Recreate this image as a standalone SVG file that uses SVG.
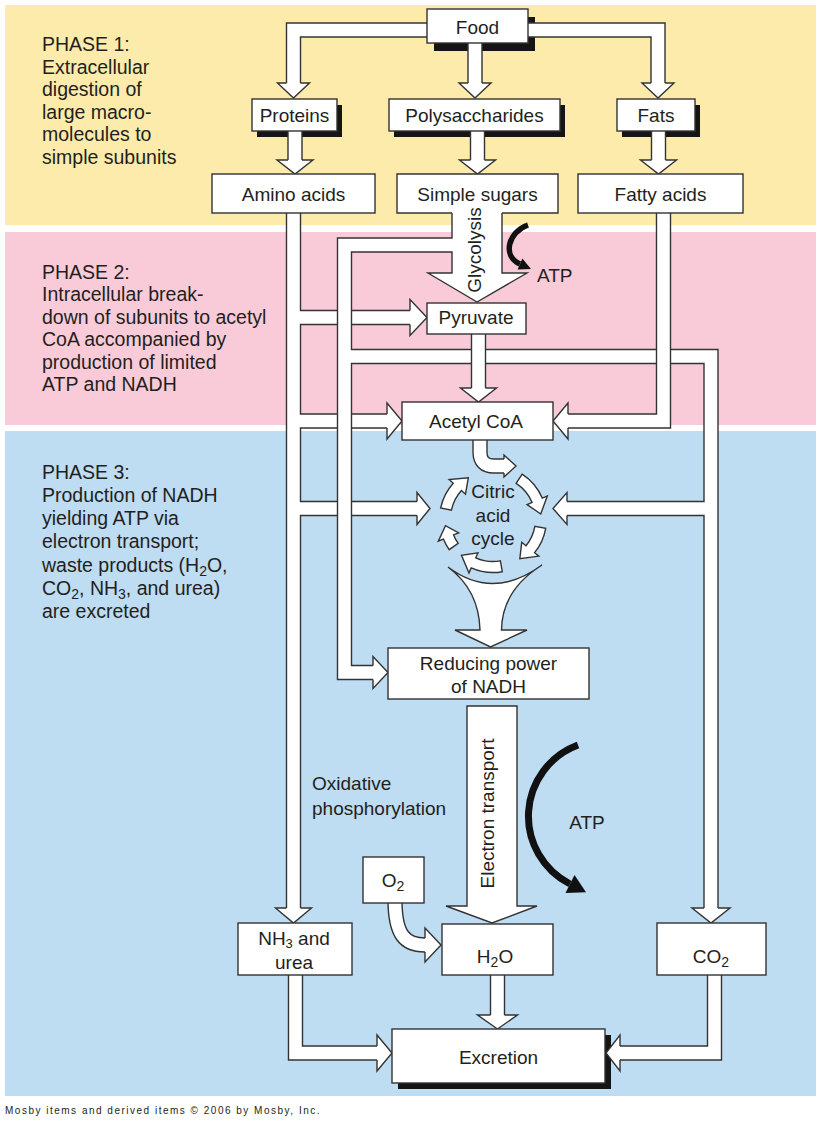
<svg xmlns="http://www.w3.org/2000/svg" width="821" height="1125" viewBox="0 0 821 1125">
<style>
.t{font-family:"Liberation Sans",Arial,sans-serif;fill:#231f20}
.ph{font-size:19.5px}
.lb{font-size:19px;text-anchor:middle}
.box{fill:#fff;stroke:#333;stroke-width:1.4}
.nb{fill:#fff;stroke:none}
.ln{fill:none;stroke:#333;stroke-width:1.4}
.sh{fill:#151515}
.po{fill:none;stroke:#333;stroke-width:15.4;stroke-linejoin:miter;stroke-linecap:butt}
.pi{fill:none;stroke:#fff;stroke-width:12.6;stroke-linejoin:miter;stroke-linecap:butt}
.ah{fill:#fff;stroke:#333;stroke-width:1.4;stroke-linejoin:miter}
.blk{fill:none;stroke:#111;stroke-linecap:butt}
.bh{fill:#111}
</style>

<g id="bands">
<rect x="5" y="5" width="811" height="220" fill="#fcebab"/>
<rect x="5" y="232" width="811" height="193" fill="#f9cbd9"/>
<rect x="5" y="431" width="811" height="665" fill="#bedcf2"/>
</g>

<g id="phase-text" class="t ph">
<text x="42" y="51">PHASE 1:</text>
<text x="42" y="73.5">Extracellular</text>
<text x="42" y="96">digestion of</text>
<text x="42" y="118.5">large macro-</text>
<text x="42" y="141">molecules to</text>
<text x="42" y="163.5">simple subunits</text>
<text x="42" y="278.5">PHASE 2:</text>
<text x="42" y="301">Intracellular break-</text>
<text x="42" y="323.5">down of subunits to acetyl</text>
<text x="42" y="346">CoA accompanied by</text>
<text x="42" y="368.5">production of limited</text>
<text x="42" y="391">ATP and NADH</text>
<text x="42" y="478.5">PHASE 3:</text>
<text x="42" y="501.5">Production of NADH</text>
<text x="42" y="525">yielding ATP via</text>
<text x="42" y="548">electron transport;</text>
<text x="42" y="571.5">waste products (H<tspan dy="4" font-size="14">2</tspan><tspan dy="-4">O,</tspan></text>
<text x="42" y="595">CO<tspan dy="4" font-size="14">2</tspan><tspan dy="-4">, NH</tspan><tspan dy="4" font-size="14">3</tspan><tspan dy="-4">, and urea)</tspan></text>
<text x="42" y="618">are excreted</text>
</g>

<g id="shadows">
<rect class="sh" x="434" y="17" width="101" height="34"/>
<rect class="sh" x="257" y="105" width="85" height="32"/>
<rect class="sh" x="394" y="105" width="171" height="32"/>
<rect class="sh" x="622" y="105" width="78" height="32"/>
<rect class="sh" x="398" y="1035" width="213" height="54"/>
</g>

<g id="connectors">
<path class="po" d="M293.5,83 V30 H658 V83 M475,40 V83"/>
<path class="pi" d="M293.5,83 V30 H658 V83 M475,40 V83"/>
<path class="ah" d="M286.5,83 L277.5,83 L293.5,98 L309.5,83 L300.5,83"/>
<path class="ah" d="M468,83 L459,83 L475,98 L491,83 L482,83"/>
<path class="ah" d="M651,83 L642,83 L658,98 L674,83 L665,83"/>
<path class="po" d="M295,128 V160 M477.5,128 V160 M658.5,128 V160"/>
<path class="pi" d="M295,128 V160 M477.5,128 V160 M658.5,128 V160"/>
<path class="ah" d="M288,160 L277,160 L295,174 L313,160 L302,160"/>
<path class="ah" d="M470.5,160 L459.5,160 L477.5,174 L495.5,160 L484.5,160"/>
<path class="ah" d="M651.5,160 L640.5,160 L658.5,174 L676.5,160 L665.5,160"/>
<path class="po" d="M293.5,211 V908 M293.5,317.5 H410 M293.5,421 H387 M293.5,508.5 H417"/>
<path class="pi" d="M293.5,211 V908 M293.5,317.5 H410 M293.5,421 H387 M293.5,508.5 H417"/>
<path class="ah" d="M410,310.5 L410,299.5 L427,317.5 L410,335.5 L410,324.5"/>
<path class="ah" d="M387,414 L387,403 L402,421 L387,439 L387,428"/>
<path class="ah" d="M417,501.5 L417,492.5 L430,508.5 L417,524.5 L417,515.5"/>
<path class="ah" d="M286.5,908 L275.5,908 L293.5,923 L311.5,908 L300.5,908"/>
<path class="po" d="M452,245 H344.5 V672.5 H373 M344.5,356.5 H711 V908 M711,508.5 H567"/>
<path class="ah" d="M452,211 V273 H428 L477,302 L527,273 H502 V211"/>
<path class="pi" d="M455,245 H344.5 V672.5 H373 M344.5,356.5 H711 V908 M711,508.5 H567"/>
<path class="ah" d="M373,665.5 L373,656.5 L388,672.5 L373,688.5 L373,679.5"/>
<path class="ah" d="M567,501.5 L567,492.5 L553,508.5 L567,524.5 L567,515.5"/>
<path class="ah" d="M704,908 L692,908 L711,923 L730,908 L718,908"/>
<path class="po" d="M663.5,211 V421 H568"/>
<path class="pi" d="M663.5,211 V421 H568"/>
<path class="ah" d="M568,414 L568,403 L553,421 L568,439 L568,428"/>
<path class="po" d="M478.5,331 V388"/>
<path class="pi" d="M478.5,331 V388"/>
<path class="ah" d="M471.5,388 L460.5,388 L478.5,402 L496.5,388 L485.5,388"/>
<path class="po" d="M480,437 V452 Q480,466 494,466 H504"/>
<path class="pi" d="M480,437 V452 Q480,466 494,466 H504"/>
<path class="ah" d="M504,459 L504,455 L516,466 L504,477 L504,473"/>
<path class="ah" d="M448,567 Q493,601 542,565 Q502,590 501.5,630 L527,630 L490.5,647 L455,630 L480,630 Q479,590 448,567 Z"/>
<path class="ah" d="M467,706 H517 V906 H537 L492,923 L446,906 H467 Z"/>
<path class="po" d="M395,900 C395,935 405,945 425,945"/>
<path class="pi" d="M395,900 C395,935 405,945 425,945"/>
<path class="ah" d="M425,938 L425,928 L441,945 L425,962 L425,952"/>
<path class="po" d="M295.5,972 V1053 H377 M497.5,972 V1015 M714.5,972 V1053 H620"/>
<path class="pi" d="M295.5,972 V1053 H377 M497.5,972 V1015 M714.5,972 V1053 H620"/>
<path class="ah" d="M377,1046 L377,1035 L392,1053 L377,1071 L377,1060"/>
<path class="ah" d="M490.5,1015 L477.5,1015 L497.5,1029 L517.5,1015 L504.5,1015"/>
<path class="ah" d="M620,1046 L620,1035 L606,1053 L620,1071 L620,1060"/>
<path class="blk" stroke-width="5.5" d="M528,225 C508,232 502,256 520,264"/>
<path class="bh" d="M517.6,269.5 L522.4,258.5 L531,268.9 Z"/>
<path class="blk" stroke-width="7" d="M578,745 A76,76 0 0 0 570,884"/>
<path class="bh" d="M565.5,892.9 L574.5,875.1 L586,892.2 Z"/>
</g>

<g id="food">
<rect class="box" x="427" y="9" width="101" height="34"/>
<text class="t lb" x="477.5" y="34">Food</text>
</g>
<g id="proteins">
<rect class="box" x="252" y="99" width="85" height="32"/>
<text class="t lb" x="294.5" y="122">Proteins</text>
</g>
<g id="polysaccharides">
<rect class="box" x="389" y="99" width="171" height="32"/>
<text class="t lb" x="474.5" y="122">Polysaccharides</text>
</g>
<g id="fats">
<rect class="box" x="617" y="99" width="78" height="32"/>
<text class="t lb" x="656" y="122">Fats</text>
</g>
<g id="amino-acids">
<rect class="box" x="212" y="174" width="163" height="39"/>
<text class="t lb" x="293.5" y="201">Amino acids</text>
</g>
<g id="simple-sugars">
<rect class="nb" x="397" y="174" width="161" height="39"/>
<path class="ln" d="M452,213 H397 V174 H558 V213 H502"/>
<text class="t lb" x="477.5" y="201">Simple sugars</text>
</g>
<g id="fatty-acids">
<rect class="box" x="578" y="174" width="165" height="39"/>
<text class="t lb" x="660.5" y="201">Fatty acids</text>
</g>
<g id="pyruvate">
<rect class="box" x="427" y="303" width="99" height="31"/>
<text class="t lb" x="476" y="324">Pyruvate</text>
</g>
<g id="acetyl-coa">
<rect class="box" x="402" y="402" width="151" height="38"/>
<text class="t lb" x="476" y="428">Acetyl CoA</text>
</g>
<g id="citric-acid-cycle">
<path class="ah" d="M440.67,507.88 A53.5,53.5 0 0 1 453.24,483.2 L449.16,479.52 L468.28,477.85 L465.51,494.24 L461.42,490.56 A42.5,42.5 0 0 0 451.43,510.16 Z"/>
<path class="ah" d="M522.14,474.13 A53.5,53.5 0 0 1 542.25,498.1 L547.31,495.95 L540.74,513.98 L527.06,504.54 L532.12,502.4 A42.5,42.5 0 0 0 516.15,483.36 Z"/>
<path class="ah" d="M545.69,528.29 A53.5,53.5 0 0 1 534.57,552.67 L538.85,556.13 L519.84,558.79 L521.75,542.28 L526.03,545.75 A42.5,42.5 0 0 0 534.85,526.38 Z"/>
<path class="ah" d="M502.29,571.69 A53.5,53.5 0 0 1 471.24,567.87 L469,572.9 L461.51,555.23 L477.95,552.8 L475.72,557.82 A42.5,42.5 0 0 0 500.38,560.85 Z"/>
<path class="ah" d="M449.17,549.69 A53.5,53.5 0 0 1 443.39,539.04 L438.3,541.1 L445.47,525.68 L458.69,532.86 L453.59,534.92 A42.5,42.5 0 0 0 458.18,543.38 Z"/>
<text class="t lb" x="493" y="498">Citric</text>
<text class="t lb" x="493" y="522">acid</text>
<text class="t lb" x="493" y="545">cycle</text>
</g>
<g id="reducing-power">
<rect class="box" x="388" y="648" width="201" height="51"/>
<text class="t lb" x="488.5" y="670">Reducing power</text>
<text class="t lb" x="488.5" y="693">of NADH</text>
</g>
<g id="o2">
<rect class="box" x="363" y="857" width="61" height="46"/>
<text class="t lb" x="393" y="887">O<tspan dy="4" font-size="14">2</tspan></text>
</g>
<g id="nh3-urea">
<rect class="box" x="238" y="923" width="114" height="52"/>
<text class="t lb" x="294" y="945">NH<tspan dy="3" font-size="13">3</tspan><tspan dy="-3"> and</tspan></text>
<text class="t lb" x="294" y="969">urea</text>
</g>
<g id="h2o">
<rect class="box" x="442" y="924" width="111" height="51"/>
<text class="t lb" x="495" y="963">H<tspan dy="4" font-size="14">2</tspan><tspan dy="-4">O</tspan></text>
</g>
<g id="co2">
<rect class="box" x="657" y="923" width="109" height="52"/>
<text class="t lb" x="711" y="963">CO<tspan dy="4" font-size="14">2</tspan></text>
</g>
<g id="excretion">
<rect class="box" x="392" y="1029" width="213" height="54"/>
<text class="t lb" x="498.5" y="1064">Excretion</text>
</g>

<g id="connector-labels" class="t">
<text class="lb" transform="translate(481,250) rotate(-90)">Glycolysis</text>
<text class="lb" transform="translate(494,813.5) rotate(-90)">Electron transport</text>
<text font-size="19" x="537" y="282">ATP</text>
<text class="lb" x="587" y="829">ATP</text>
<text font-size="19" x="312" y="790">Oxidative</text>
<text font-size="19" x="312" y="815">phosphorylation</text>
</g>

<text class="t" x="5" y="1114" font-size="10" letter-spacing="1.5">Mosby items and derived items © 2006 by Mosby, Inc.</text>
</svg>
